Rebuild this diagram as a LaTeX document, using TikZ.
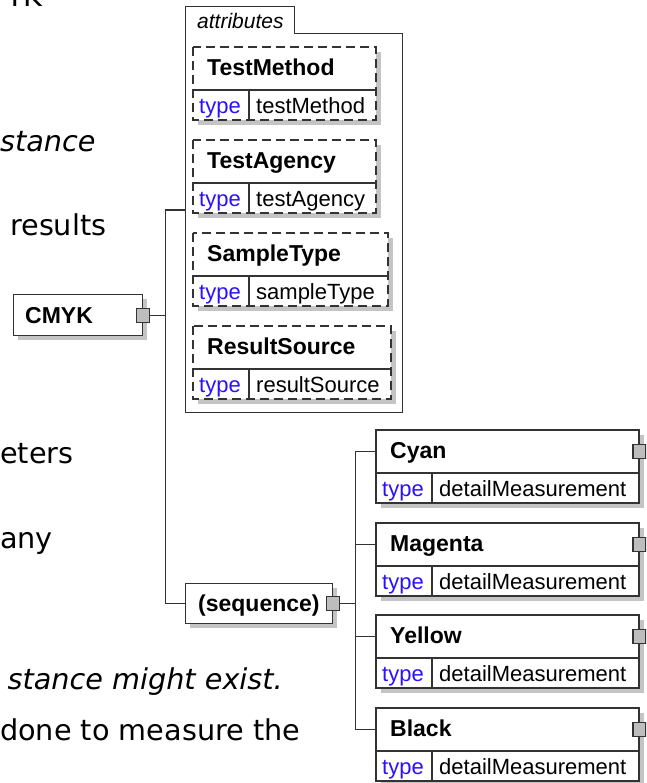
\documentclass[tikz,border=0pt]{standalone}
\usepackage{fontspec}
\setmainfont{Liberation Sans}
\newfontfamily\verd{DejaVu Sans}
\usetikzlibrary{calc}
\definecolor{lineC}{HTML}{333333}
\definecolor{shd}{HTML}{C4C4C4}
\definecolor{typeblue}{HTML}{2A10FF}
\definecolor{sqfill}{HTML}{BDBDBD}
\tikzset{
  ln/.style={draw=lineC, line width=1.2pt},
  conn/.style={draw=lineC, line width=1.2pt},
  frame/.style={fill=white, rectangle, inner sep=0pt, anchor=north west},
  ttl/.style={font=\fontsize{23}{27}\selectfont\bfseries, anchor=base west, inner sep=0pt},
  tv/.style={font=\fontsize{22}{26}\selectfont, anchor=base west, inner sep=0pt},
  ttype/.style={tv, text=typeblue},
  sq/.style={draw=lineC, line width=1.2pt, fill=sqfill, minimum width=13pt, minimum height=14pt, inner sep=0pt},
  lt/.style={font=\verd\fontsize{28.7}{32}\selectfont, inner sep=0pt},
  lti/.style={font=\verd\itshape\fontsize{28.7}{32}\selectfont, inner sep=0pt},
  dashedge/.style={dash pattern=on 9pt off 5pt}
}
% #1 name, #2 x, #3 y, #4 width, #5 title, #6 type value, #7 border style, #8 extra
\newcommand{\xsdel}[8]{%
  \fill[shd] (#2+5,#3+5) rectangle (#2+#4+5,#3+78);
  \node[frame, minimum width=#4pt, minimum height=43pt] (#1) at (#2,#3) {};
  \fill[white] (#2,#3+43) rectangle (#2+#4,#3+73);
  \draw[ln,#7] (#2,#3) rectangle (#2+#4,#3+73);
  \draw[ln] (#2,#3+43) -- (#2+#4,#3+43);
  \draw[ln] (#2+56,#3+43) -- (#2+56,#3+73);
  \node[ttl] (#1-n) at (#2+14,#3+28.5) {#5};
  \node[ttype] (#1-k) at (#2+6,#3+66.5) {type};
  \node[tv] (#1-v) at (#2+63,#3+66.5) {#6};
  #8
}
\begin{document}
\begin{tikzpicture}[x=1pt,y=-1pt]
\useasboundingbox (0,0) rectangle (646,783);
\clip (0,0) rectangle (646,783);
\fill[white] (0,0) rectangle (646,783);

% left text fragments
\node[lt, anchor=base east] (t1) at (43,7) {TK};
\node[lti, anchor=base west] (t2) at (0,152) {stance};
\node[lt, anchor=base west] (t3) at (10,236) {results};
\node[lt, anchor=base west] (t4) at (0,463) {eters};
\node[lt, anchor=base west] (t5) at (0,548) {any};
\node[lti, anchor=base east] (t6) at (283,689) {stance might exist.};
\node[lt, anchor=base west] (t7) at (0,740) {done to measure the};

% CMYK root element
\fill[shd] (18,299) rectangle (147,340);
\node[frame, draw=lineC, line width=1.2pt, minimum width=129pt, minimum height=41pt] (cmyk) at (13,294) {};
\node[ttl] (cmyk-n) at (25,323) {CMYK};
\node[sq] (cmykx) at (cmyk.east) {};

% attributes container
\draw[ln, line width=1pt] (294,34) -- (402,34) -- (402,412) -- (185,412) -- (185,7) -- (294,7) -- cycle;
\coordinate (attrsW) at (185,210);
\node[font=\fontsize{21}{25}\selectfont\itshape, anchor=base west, inner sep=0pt] (attrs-t) at (197,29) {attributes};

\xsdel{tm}{193}{47}{183}{TestMethod}{testMethod}{dashedge}{}
\xsdel{ta}{193}{140}{183}{TestAgency}{testAgency}{dashedge}{}
\xsdel{st}{193}{233}{195}{SampleType}{sampleType}{dashedge}{}
\xsdel{rs}{193}{326}{198}{ResultSource}{resultSource}{dashedge}{}

% sequence
\fill[shd] (190,588) rectangle (337,628);
\node[frame, draw=lineC, line width=1.2pt, minimum width=147pt, minimum height=40pt] (seq) at (185,583) {};
\node[ttl] (seq-n) at (198,611) {(sequence)};
\node[sq] (seqx) at (seq.east) {};

% child elements
\xsdel{cy}{376}{430}{263}{Cyan}{detailMeasurement}{solid}{\node[sq] (cy-x) at (cy.east) {};}
\xsdel{mg}{376}{523}{263}{Magenta}{detailMeasurement}{solid}{\node[sq] (mg-x) at (mg.east) {};}
\xsdel{ye}{376}{615}{263}{Yellow}{detailMeasurement}{solid}{\node[sq] (ye-x) at (ye.east) {};}
\xsdel{bk}{376}{708}{263}{Black}{detailMeasurement}{solid}{\node[sq] (bk-x) at (bk.east) {};}

% connectors
\draw[conn] (cmykx.east) -- ++(15,0) coordinate (spine);
\draw[conn] (attrsW) -| (spine) |- (seq.west);
\draw[conn] (seqx.east) -- ++(15,0) coordinate (fork);
\draw[conn] (cy.west) -| (fork);
\draw[conn] (mg.west) -| (fork);
\draw[conn] (ye.west) -| (fork);
\draw[conn] (bk.west) -| (fork);
\end{tikzpicture}
\end{document}
